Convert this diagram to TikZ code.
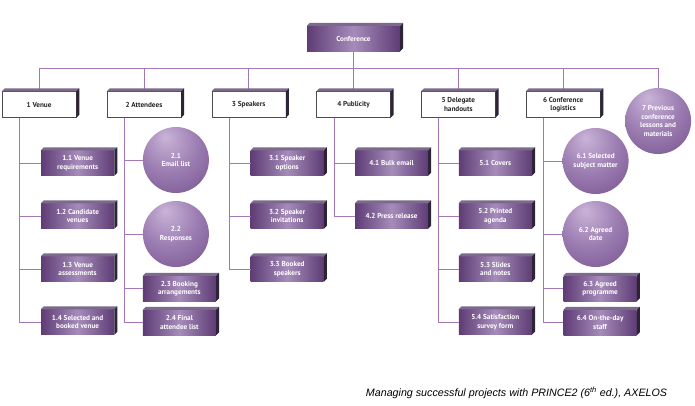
\documentclass[tikz,border=0pt]{standalone}
\usepackage{fontspec}
\setsansfont{PT Sans}
\newfontfamily\capfont{Liberation Sans}
\usetikzlibrary{positioning}

\definecolor{pdark}{HTML}{5E3C75}
\definecolor{plight}{HTML}{A68CBA}
\definecolor{orblight}{HTML}{C9B4D8}
\definecolor{orbmid}{HTML}{9C7DB2}
\definecolor{orbdark}{HTML}{6A4782}
\definecolor{lnk}{HTML}{A677B6}
\definecolor{bevelpale}{HTML}{7B6A8C}
\definecolor{beveldeep}{HTML}{2E2438}
\pgfdeclareradialshading{orbshade}{\pgfpoint{-8bp}{18bp}}{color(0bp)=(orblight); color(22bp)=(orbmid); color(50bp)=(orbdark); color(75bp)=(orbdark)}

\begin{document}
\begin{tikzpicture}[x=1pt,y=1pt,on grid,node distance=104.8pt,
        font=\sffamily\bfseries\fontsize{7.2}{8.6}\selectfont,
        head/.style={draw=black!70,fill=white,minimum width=74pt,minimum height=26pt,inner sep=1pt,align=center,text=black!85},
        work/.style={left color=pdark,right color=pdark,middle color=plight,minimum width=73pt,minimum height=25pt,inner sep=1pt,align=center,text=white},
        bubble/.style={circle,shading=orbshade,minimum size=66pt,inner sep=0pt,align=center,text=white},
        link/.style={draw=lnk,line width=0.8pt}]

      \useasboundingbox (0,0) rectangle (695,-405);

      \node[work,minimum width=93pt] (root) at (353.5,-38.5) {Conference};
      \node[head,below=66pt of root] (p) {4 Publicity};
      \node[head,left=of p]  (s) {3 Speakers};
      \node[head,left=of s]  (a) {2 Attendees};
      \node[head,left=of a]  (v) {1 Venue};
      \node[head,right=of p] (d) {5 Delegate\\handouts};
      \node[head,right=of d] (l) {6 Conference\\logistics};
      \node[bubble,below right=16.5pt and 95pt of l] (h) {7 Previous\\conference\\lessons and\\materials};

      % 1 Venue
      \node[work,below right=58.5pt and 38.5pt of v] (v1) {1.1 Venue\\requirements};
      \node[work,below=53pt of v1] (v2) {1.2 Candidate\\venues};
      \node[work,below=53pt of v2] (v3) {1.3 Venue\\assessments};
      \node[work,below=53pt of v3] (v4) {1.4 Selected and\\booked venue};

      % 2 Attendees
      \node[bubble,below right=55.5pt and 32pt of a] (a1) {2.1\\Email list};
      \node[bubble,below=74pt of a1] (a2) {2.2\\Responses};
      \node[work,below right=54.5pt and 3.5pt of a2] (a3) {2.3 Booking\\arrangements};
      \node[work,below=34pt of a3] (a4) {2.4 Final\\attendee list};

      % 3 Speakers
      \node[work,below right=58.5pt and 38.5pt of s] (s1) {3.1 Speaker\\options};
      \node[work,below=53pt of s1] (s2) {3.2 Speaker\\invitations};
      \node[work,below=53pt of s2] (s3) {3.3 Booked\\speakers};

      % 4 Publicity
      \node[work,below right=58.5pt and 38pt of p] (p1) {4.1 Bulk email};
      \node[work,below=53pt of p1] (p2) {4.2 Press release};

      % 5 Delegate handouts
      \node[work,below right=58.5pt and 37pt of d] (d1) {5.1 Covers};
      \node[work,below=53pt of d1] (d2) {5.2 Printed\\agenda};
      \node[work,below=53pt of d2] (d3) {5.3 Slides\\and notes};
      \node[work,below=53pt of d3] (d4) {5.4 Satisfaction\\survey form};

      % 6 Conference logistics
      \node[bubble,below right=56.5pt and 32.5pt of l] (l1) {6.1 Selected\\subject matter};
      \node[bubble,below=73pt of l1] (l2) {6.2 Agreed\\date};
      \node[work,below right=54.5pt and 4.5pt of l2] (l3) {6.3 Agreed\\programme};
      \node[work,below=34pt of l3] (l4) {6.4 On-the-day\\staff};

      % connectors
      \coordinate (bus) at ([yshift=-17pt]root.south);
      \draw[link] (root.south) -- (bus);
      \draw[link] (v.north |- bus) -- (h.north |- bus);
      \foreach \n in {v,a,s,p,d,l,h}
        \draw[link] (\n.north |- bus) -- (\n.north);
      \foreach \up/\kids in {v/{v1,v2,v3,v4},a/{a1,a2,a3,a4},s/{s1,s2,s3},p/{p1,p2},d/{d1,d2,d3,d4},l/{l1,l2,l3,l4}}
        \foreach \k in \kids
          \draw[link] ([xshift=-19.5pt]\up.south) |- (\k.west);

      % bevels
      \foreach \n in {root,v,a,s,p,d,l,v1,v2,v3,v4,a3,a4,s1,s2,s3,p1,p2,d1,d2,d3,d4,l3,l4} {
        \fill[bevelpale] (\n.north west) -- ++(3,3) -- ([shift={(3,3)}]\n.north east) -- (\n.north east) -- cycle;
        \fill[beveldeep] (\n.north east) -- ++(3,3) -- ([shift={(3,3)}]\n.south east) -- (\n.south east) -- cycle;
      }

      \node[font=\capfont\itshape\fontsize{10.7}{12}\selectfont,text=black] (src) at (516.5,-393) {Managing successful projects with PRINCE2 (6\textsuperscript{th} ed.), AXELOS};
\end{tikzpicture}
\end{document}
